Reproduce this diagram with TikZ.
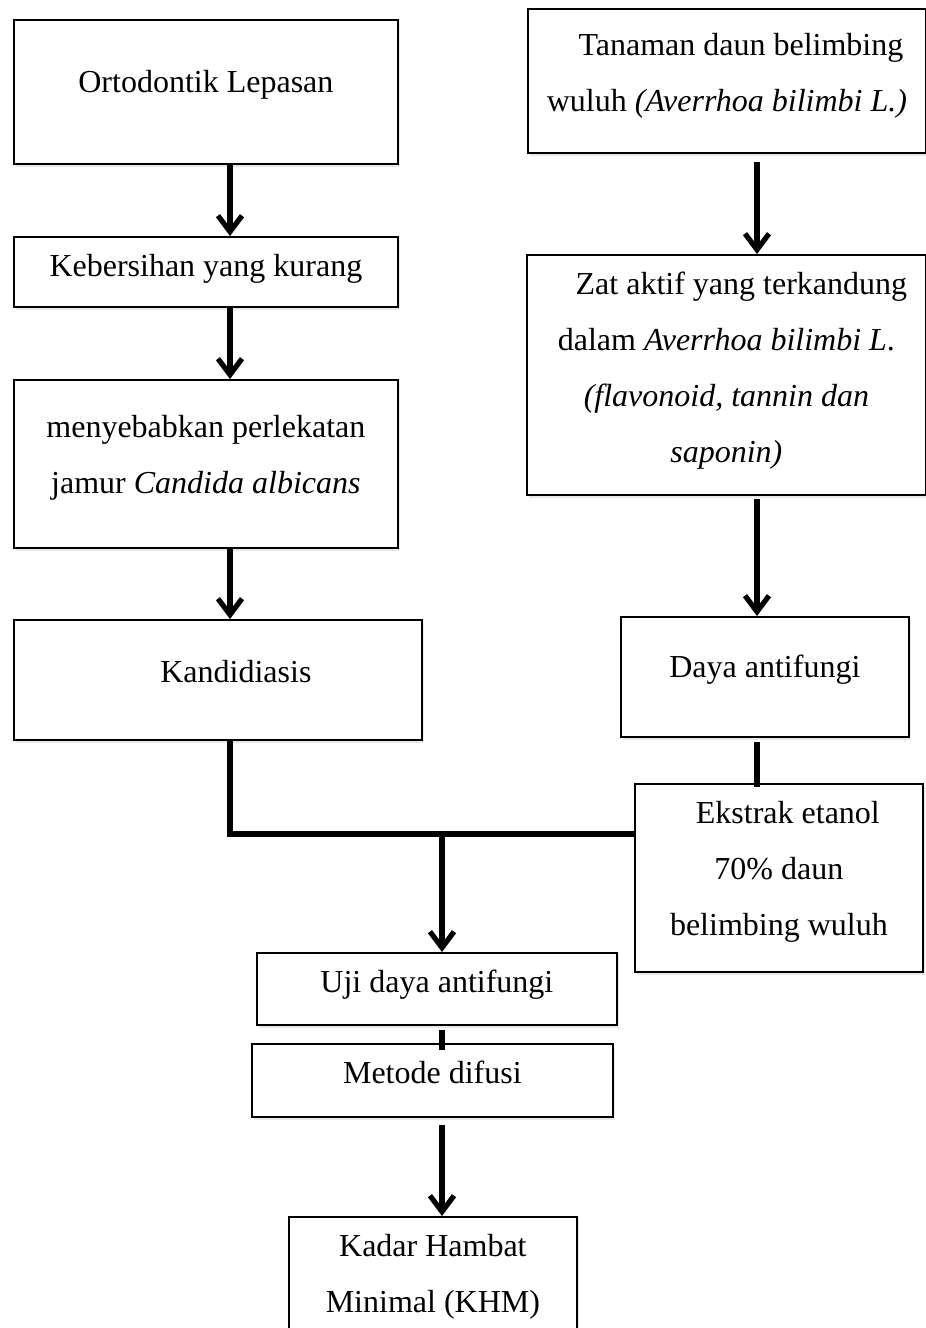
\documentclass[tikz,border=0pt]{standalone}
\usepackage{fontspec}
\setmainfont{Liberation Serif}
\usetikzlibrary{arrows.meta,shadows}

\begin{document}
\begin{tikzpicture}[
x=0.5pt,
y=-0.5pt,
box/.style={
  draw,
  line width=0.9pt,
  fill=white,
  inner sep=0pt,
  anchor=north west,
  font=\fontsize{16pt}{28pt}\selectfont,
  drop shadow={opacity=0.18,shadow xshift=1.2pt,shadow yshift=-1.5pt}
  },
link/.style={
  line width=2.6pt
  },
arrow/.style={
  link,
  -{Straight Barb[length=8pt,width=12pt]}
  }
]
\useasboundingbox (0,0) rectangle (926,1328);
\clip (0,0) rectangle (926,1328);
% left column
\node[box] (orto) at (13,19) {\parbox[c][72pt][t]{192pt}{\centering\vspace*{16.9pt}\strut Ortodontik Lepasan}};
\node[box] (bersih) at (13,236) {\parbox[c][35pt][t]{192pt}{\centering\strut Kebersihan yang kurang}};
\node[box] (jamur) at (13,379) {\parbox[c][84pt][t]{192pt}{\centering\vspace*{9.4pt}\strut menyebabkan perlekatan\\ jamur \textit{Candida albicans}}};
\node[box] (kandi) at (13,619) {\parbox[c][60pt][t]{204pt}{\centering\vspace*{11.9pt}\strut\hspace*{18pt}Kandidiasis}};
% right column
\node[box] (tanaman) at (527,8) {\parbox[c][72pt][t]{199pt}{\centering\vspace*{3.9pt}\strut\hspace*{14pt}Tanaman daun belimbing\\ wuluh \textit{(Averrhoa bilimbi L.)}}};
\node[box] (zat) at (526,254) {\parbox[c][120pt][t]{199.5pt}{\centering\strut\hspace*{15pt}Zat aktif yang terkandung\\ dalam \textit{Averrhoa bilimbi L}.\\ \textit{(flavonoid, tannin dan}\\ \textit{saponin)}}};
\node[box] (daya) at (620,616) {\parbox[c][60pt][t]{144pt}{\centering\vspace*{10.9pt}\strut Daya antifungi}};
\node[box] (ekstrak) at (634,783) {\parbox[c][94pt][t]{144pt}{\centering\strut\hspace*{9pt}Ekstrak etanol\\ 70\% daun\\ belimbing wuluh}};
% bottom
\node[box] (uji) at (256,952) {\parbox[c][36pt][t]{180pt}{\centering\strut Uji daya antifungi}};
\node[box] (metode) at (251,1043) {\parbox[c][36.5pt][t]{180.5pt}{\centering\strut Metode difusi}};
\node[box] (khm) at (288,1216) {\parbox[c][65pt][t]{144pt}{\centering\strut Kadar Hambat\\ Minimal (KHM)}};
% connectors
\coordinate (lx) at (230,0);
\coordinate (rx) at (757,0);
\coordinate (cx) at (442,0);
\coordinate (join) at (442,834);
\draw[arrow] (orto.south -| lx) -- (bersih.north -| lx);
\draw[arrow] (bersih.south -| lx) -- (jamur.north -| lx);
\draw[arrow] (jamur.south -| lx) -- (kandi.north -| lx);
\draw[arrow, shorten <=4pt] (tanaman.south -| rx) -- (zat.north -| rx);
\draw[arrow, shorten <=1.5pt] (zat.south -| rx) -- (daya.north -| rx);
\draw[link, shorten <=2pt, shorten >=-2pt] (daya.south -| rx) -- (ekstrak.north -| rx);
\draw[link] (kandi.south -| lx) |- (join) -- (join -| ekstrak.west);
\draw[arrow] (join) -- (uji.north -| join);
\draw[link, shorten <=2pt, shorten >=-3.5pt] (uji.south -| cx) -- (metode.north -| cx);
\draw[arrow, shorten <=3.5pt] (metode.south -| cx) -- (khm.north -| cx);
\end{tikzpicture}
\end{document}
